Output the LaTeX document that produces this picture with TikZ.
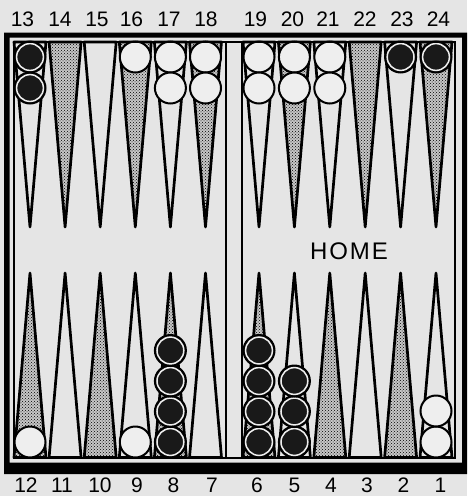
\documentclass[tikz,border=0pt]{standalone}
\usepackage{fontspec}
\setmainfont{Liberation Sans}
\usepackage{xcolor}
\definecolor{paper}{RGB}{229,229,229}
\definecolor{ivory}{RGB}{238,238,238}
\usetikzlibrary{patterns}
\tikzset{
  point/.style={draw=black, line width=2.7pt, line join=round},
  lightpoint/.style={point, fill=paper},
  darkpoint/.style={point, preaction={fill=black!22}, pattern=crosshatch dots, pattern color=black},
  whitestone/.style={draw=black, line width=2pt, fill=ivory},
  blackstone/.style={draw=black, line width=2pt, fill=black!90},
  ring/.style={draw=ivory, line width=1.5pt},
  numlabel/.style={inner sep=0pt, font=\fontsize{21}{24}\selectfont},
}
\begin{document}
\begin{tikzpicture}[x=1pt,y=-1pt]
      \useasboundingbox (0,0) rectangle (467,496);
      \fill[paper] (0,0) rectangle (467,496);
      % points
      \foreach \x in {30,100.2,170.4,259,329.8,400.6}{
        \draw[lightpoint] (\x-16,42) -- (\x,227) -- (\x+16,42) -- cycle;
        \draw[darkpoint] (\x-16,457.5) -- (\x,273) -- (\x+16,457.5) -- cycle;
      }
      \foreach \x in {65.1,135.3,205.5,294.4,365.2,436}{
        \draw[darkpoint] (\x-16,42) -- (\x,227) -- (\x+16,42) -- cycle;
        \draw[lightpoint] (\x-16,457.5) -- (\x,273) -- (\x+16,457.5) -- cycle;
      }
      % checkers
      \foreach \x/\y in {135.3/57, 170.4/57, 170.4/88, 205.5/57, 205.5/88,
                         259/57, 259/88, 294.4/57, 294.4/88, 329.8/57, 329.8/88,
                         30/442, 135.3/442, 436/442, 436/411}
        \draw[whitestone] (\x,\y) circle [radius=15.5];
      \foreach \x/\y in {30/57, 30/88, 400.6/57, 436/57,
                         170.4/442, 170.4/411.5, 170.4/381, 170.4/350.5,
                         259/442, 259/411.5, 259/381, 259/350.5,
                         294.4/442, 294.4/411.5, 294.4/381}{
        \draw[blackstone] (\x,\y) circle [radius=15.5];
        \draw[ring] (\x,\y) circle [radius=13.4];
      }
      % frame and bar
      \fill[black, even odd rule] (4,32.5) rectangle (467,474) (9.5,37.5) rectangle (462,462.5);
      \draw[line width=2pt] (14,42) rectangle (454.5,457.5);
      \draw[line width=2pt] (226,42) -- (226,457.5) (241.5,42) -- (241.5,457.5);
      % labels
      \foreach \x [count=\i, evaluate=\i as \n using int(12+\i)] in
          {22.5,60,97,131.5,169,206,255.5,292.5,328,365,402,438.5}
        \node[numlabel] (top\n) at (\x,19.5) {\n};
      \foreach \x [count=\i, evaluate=\i as \n using int(13-\i)] in
          {26,62,100,137,173.5,212,257,294.5,331,367,403.5,440.5}
        \node[numlabel] (bot\n) at (\x,485) {\n};
      \node[font=\fontsize{24}{28}\selectfont\addfontfeature{LetterSpace=8}] (home) at (349,251) {HOME};
    \end{tikzpicture}
\end{document}
